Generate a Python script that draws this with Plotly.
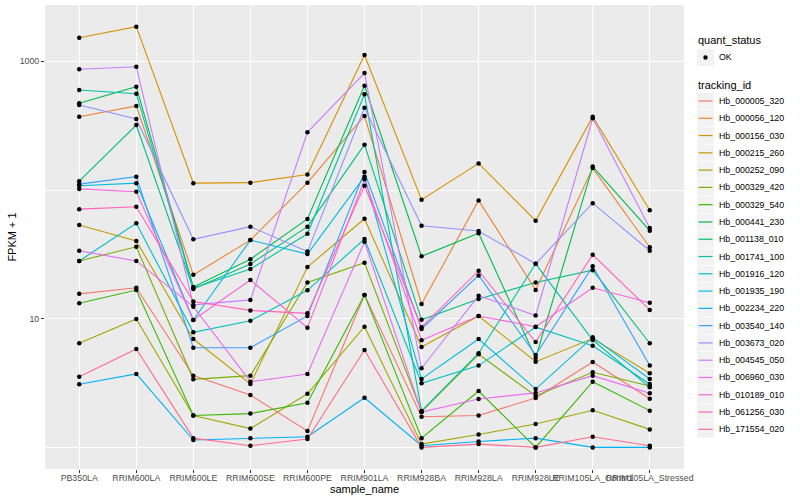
import plotly.graph_objects as go

sample_names = ["PB350LA", "RRIM600LA", "RRIM600LE", "RRIM600SE", "RRIM600PE",
                "RRIM901LA", "RRIM928BA", "RRIM928LA", "RRIM928LE",
                "RRIM105LA_Control", "RRIM105LA_Stressed"]

# FPKM + 1 values per tracking_id, one value per sample_name
hb_000005_320 = [15.6, 17.4, 3.61, 2.55, 1.34, 15.3, 1.73, 1.77, 2.42, 4.61, 2.39]
hb_000056_120 = [371, 450, 21.9, 40.8, 114, 376, 13.0, 83, 16.7, 148, 35.9]
hb_000156_030 = [1525, 1858, 113, 114, 132, 1119, 84, 161, 57.7, 371, 69.5]
hb_000215_260 = [53.5, 40.2, 6.95, 3.11, 25.2, 59.8, 6.03, 10.5, 4.63, 7.01, 3.77]
hb_000252_090 = [6.44, 9.95, 1.77, 1.40, 2.61, 8.66, 1.06, 1.26, 1.52, 1.94, 1.38]
hb_000329_420 = [28.1, 36.2, 3.38, 3.61, 19.1, 27.2, 1.89, 5.29, 2.51, 3.83, 3.00]
hb_000329_540 = [13.2, 16.7, 1.77, 1.83, 2.22, 15.3, 1.18, 2.74, 1.00, 3.24, 1.93]
hb_000441_230 = [472, 635, 17.6, 29.0, 59.6, 646, 30.5, 46.1, 4.95, 152, 48.3]
hb_001138_010 = [117, 320, 17.0, 26.6, 51.9, 225, 9.8, 14.2, 19.1, 23.8, 6.44]
hb_001741_100 = [598, 560, 17.3, 24.3, 45.7, 554, 1.92, 5.39, 26.7, 6.83, 2.93]
hb_001916_120 = [28.1, 55.1, 7.84, 9.65, 16.6, 41.6, 3.15, 4.32, 8.6, 6.17, 3.11]
hb_001935_190 = [108, 113, 9.77, 40.8, 31.8, 127, 3.40, 6.95, 2.84, 7.16, 3.40]
hb_002234_220 = [3.09, 3.72, 1.14, 1.18, 1.21, 2.43, 1.03, 1.11, 1.18, 1.00, 1.00]
hb_003540_140 = [111, 127, 5.95, 5.95, 10.5, 138, 8.32, 21.7, 5.22, 25.5, 4.32]
hb_003673_020 = [457, 356, 41.4, 51.9, 33.2, 436, 52.8, 48.0, 26.7, 79, 33.7]
hb_004545_050 = [867, 908, 12.8, 14.0, 281, 811, 4.12, 15.1, 10.6, 361, 50.7]
hb_006960_030 = [33.7, 28.1, 12.4, 3.24, 3.72, 39.6, 1.88, 2.38, 2.65, 3.61, 2.63]
hb_010189_010 = [102, 97, 9.77, 20.0, 8.51, 121, 6.8, 10.5, 8.66, 17.4, 13.3]
hb_061256_030 = [71, 74, 13.6, 11.6, 11.0, 108, 8.58, 23.6, 6.59, 31.4, 11.7]
hb_171554_020 = [3.54, 5.82, 1.18, 1.03, 1.16, 5.71, 1.00, 1.06, 1.00, 1.21, 1.03]

tracking_ids = ["Hb_000005_320", "Hb_000056_120", "Hb_000156_030", "Hb_000215_260",
                "Hb_000252_090", "Hb_000329_420", "Hb_000329_540", "Hb_000441_230",
                "Hb_001138_010", "Hb_001741_100", "Hb_001916_120", "Hb_001935_190",
                "Hb_002234_220", "Hb_003540_140", "Hb_003673_020", "Hb_004545_050",
                "Hb_006960_030", "Hb_010189_010", "Hb_061256_030", "Hb_171554_020"]
series_values = [hb_000005_320, hb_000056_120, hb_000156_030, hb_000215_260,
                 hb_000252_090, hb_000329_420, hb_000329_540, hb_000441_230,
                 hb_001138_010, hb_001741_100, hb_001916_120, hb_001935_190,
                 hb_002234_220, hb_003540_140, hb_003673_020, hb_004545_050,
                 hb_006960_030, hb_010189_010, hb_061256_030, hb_171554_020]
quant_status = ["OK"]

colors = ["#F8766D", "#EA8331", "#D89000", "#C09B00", "#A3A500", "#7CAE00", "#39B600",
          "#00BB4E", "#00BF7D", "#00C1A3", "#00BFC4", "#00BAE0", "#00B0F6", "#35A2FF",
          "#9590FF", "#C77CFF", "#E76BF3", "#FA62DB", "#FF62BC", "#FF6C91"]

FONT = "Liberation Sans, Arial, sans-serif"
W, H = 800, 500
ML, MR, MT, MB = 45, 116, 5, 31
PW, PH = W - ML - MR, H - MT - MB


def px(xp):
    return (xp - ML) / PW


def py(yp):
    return (H - MB - yp) / PH


fig = go.Figure()
for tid, vals, col in zip(tracking_ids, series_values, colors):
    fig.add_trace(go.Scatter(x=sample_names, y=vals, mode="lines", name=tid,
                             line=dict(color=col, width=1.1), showlegend=False,
                             hoverinfo="skip"))

all_x, all_y = [], []
for vals in series_values:
    all_x.extend(sample_names)
    all_y.extend(vals)
fig.add_trace(go.Scatter(x=all_x, y=all_y, mode="markers", name=quant_status[0],
                         marker=dict(color="black", size=4.5), showlegend=False))

# ---- legends drawn in the right margin (ggplot style) ----
shapes, annos = [], []
KX0, KX1 = 697, 714
TX = 716.5
annos.append(dict(text="quant_status", x=px(696), y=py(40), xref="paper", yref="paper",
                  xanchor="left", yanchor="middle", showarrow=False,
                  font=dict(size=11, color="black", family=FONT)))
cy = 57.5
shapes.append(dict(type="rect", xref="paper", yref="paper", x0=px(KX0), x1=px(KX1),
                   y0=py(cy - 8.5), y1=py(cy + 8.5), fillcolor="#F2F2F2", line=dict(width=0),
                   layer="above"))
shapes.append(dict(type="circle", xref="paper", yref="paper", x0=px(703.3), x1=px(707.7),
                   y0=py(cy - 2.2), y1=py(cy + 2.2), fillcolor="black", line=dict(width=0),
                   layer="above"))
annos.append(dict(text=quant_status[0], x=px(TX), y=py(cy), xref="paper", yref="paper",
                  xanchor="left", yanchor="middle", showarrow=False,
                  font=dict(size=8.8, color="black", family=FONT)))

annos.append(dict(text="tracking_id", x=px(696), y=py(84.5), xref="paper", yref="paper",
                  xanchor="left", yanchor="middle", showarrow=False,
                  font=dict(size=11, color="black", family=FONT)))
for i, (tid, col) in enumerate(zip(tracking_ids, colors)):
    cy = 101.0 + i * 17.28
    shapes.append(dict(type="rect", xref="paper", yref="paper", x0=px(KX0), x1=px(KX1),
                       y0=py(cy - 8.3), y1=py(cy + 8.3), fillcolor="#F2F2F2",
                       line=dict(width=0), layer="above"))
    shapes.append(dict(type="line", xref="paper", yref="paper", x0=px(698.5), x1=px(712.5),
                       y0=py(cy), y1=py(cy), line=dict(color=col, width=1.2), layer="above"))
    annos.append(dict(text=tid, x=px(TX), y=py(cy), xref="paper", yref="paper",
                      xanchor="left", yanchor="middle", showarrow=False,
                      font=dict(size=8.8, color="black", family=FONT)))

fig.update_layout(
    width=W, height=H,
    margin=dict(l=ML, r=MR, t=MT, b=MB, autoexpand=False),
    paper_bgcolor="white", plot_bgcolor="#EBEBEB",
    font=dict(family=FONT, size=9, color="#4D4D4D"),
    showlegend=False, shapes=shapes, annotations=annos,
)

fig.update_xaxes(type="category", categoryorder="array", categoryarray=sample_names,
                 range=[-0.6, 10.6], showgrid=True, gridcolor="white", gridwidth=1.1,
                 zeroline=False, ticks="outside", ticklen=3, tickcolor="#333333",
                 tickangle=0, tickfont=dict(size=8.8, color="#4D4D4D"),
                 ticklabelstandoff=-3,
                 title=dict(text="sample_name", font=dict(size=11, color="black"), standoff=2))
fig.update_yaxes(type="log", range=[-0.168, 3.4375],
                 tickmode="array", tickvals=[10, 1000], ticktext=["10", "1000"],
                 showgrid=True, gridcolor="white", gridwidth=1.1, zeroline=False,
                 ticks="outside", ticklen=3, tickcolor="#333333",
                 tickfont=dict(size=8.8, color="#4D4D4D"),
                 minor=dict(tickmode="array", tickvals=[1, 100], showgrid=True,
                            gridcolor="white", gridwidth=0.55, ticklen=0),
                 title=dict(text="FPKM + 1", font=dict(size=11, color="black"), standoff=0))

fig.write_html("out.html", config={"displayModeBar": False},
               post_script="document.body.style.margin='0px';")
